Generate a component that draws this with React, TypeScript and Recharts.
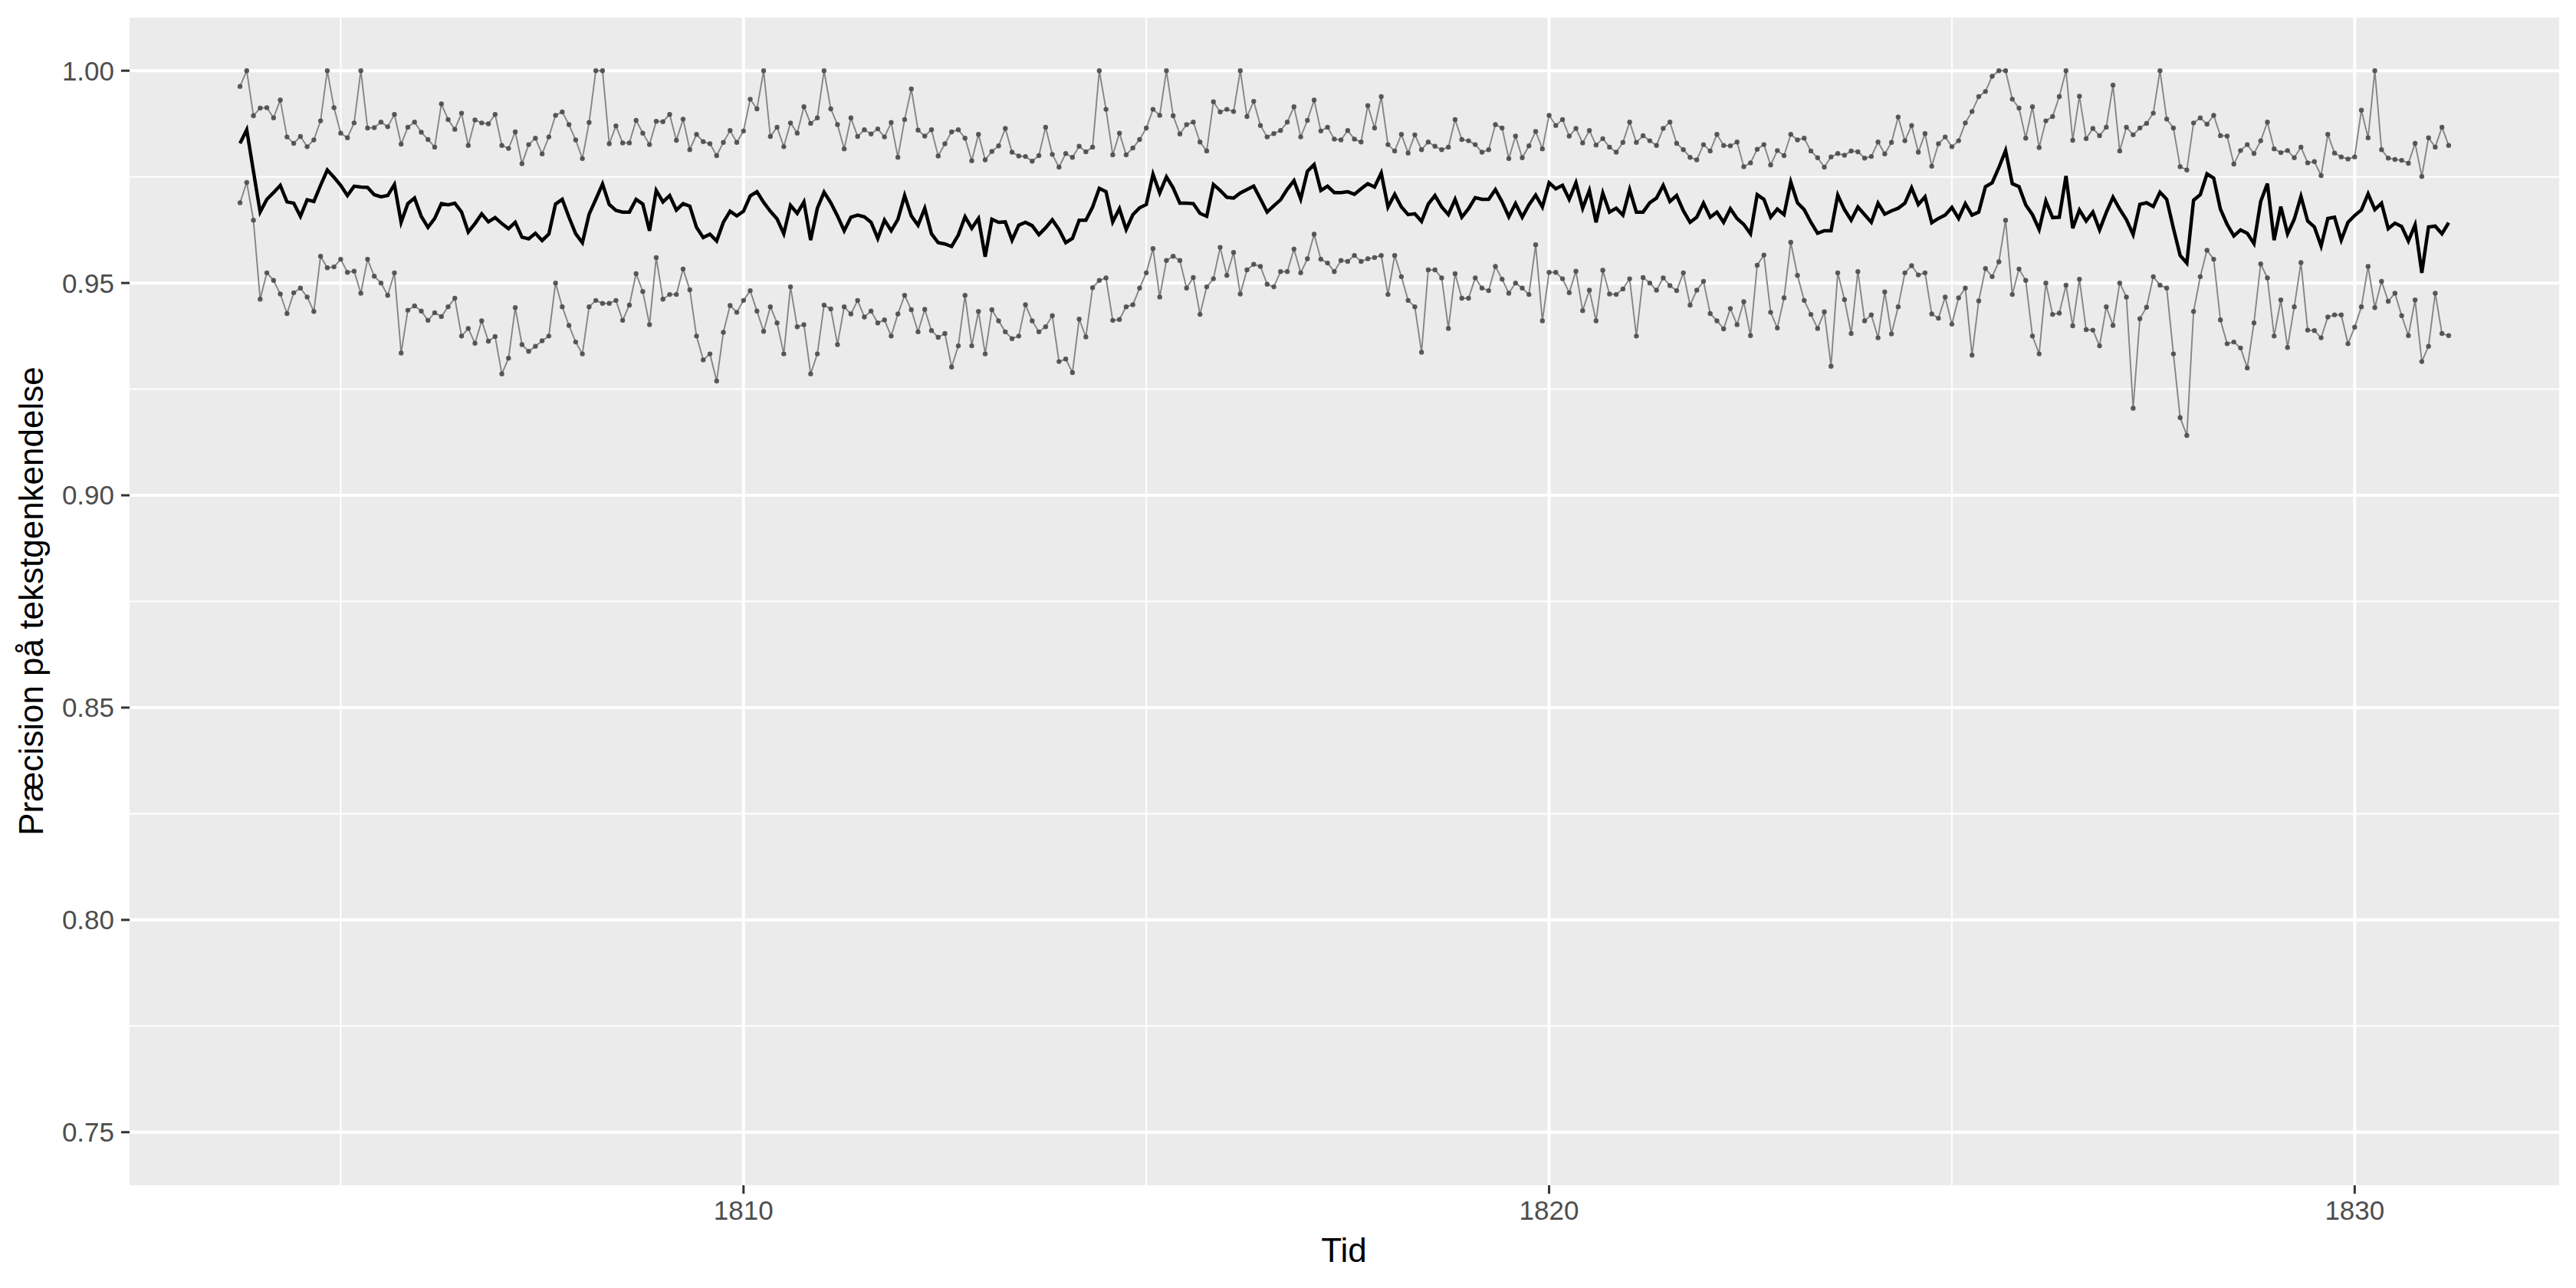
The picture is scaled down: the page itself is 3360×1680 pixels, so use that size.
import React from 'react';
import { LineChart, Line, XAxis, YAxis, CartesianGrid, ReferenceLine } from 'recharts';

// Monthly series, starting October 1803
const startYear = 1803.75;

const upper = [
0.9963,1.0000,0.9894,0.9912,0.9913,0.9889,0.9931,0.9844,0.9829,0.9845,
0.9821,0.9837,0.9882,1.0000,0.9913,0.9853,0.9842,0.9877,1.0000,0.9865,
0.9866,0.9879,0.9868,0.9897,0.9827,0.9867,0.9879,0.9855,0.9838,0.9820,
0.9922,0.9885,0.9862,0.9900,0.9824,0.9884,0.9877,0.9875,0.9897,0.9824,
0.9817,0.9856,0.9781,0.9826,0.9841,0.9804,0.9844,0.9895,0.9903,0.9873,
0.9837,0.9793,0.9878,1.0000,1.0000,0.9828,0.9870,0.9830,0.9830,0.9883,
0.9853,0.9826,0.9881,0.9880,0.9897,0.9836,0.9886,0.9814,0.9850,0.9833,
0.9828,0.9800,0.9831,0.9859,0.9831,0.9858,0.9933,0.9910,1.0000,0.9845,
0.9867,0.9821,0.9877,0.9853,0.9915,0.9876,0.9889,1.0000,0.9910,0.9873,
0.9816,0.9889,0.9845,0.9861,0.9851,0.9863,0.9844,0.9878,0.9796,0.9885,
0.9957,0.9860,0.9846,0.9861,0.9799,0.9828,0.9856,0.9861,0.9841,0.9788,
0.9850,0.9790,0.9810,0.9823,0.9864,0.9808,0.9799,0.9798,0.9787,0.9800,
0.9867,0.9803,0.9773,0.9805,0.9796,0.9822,0.9809,0.9820,1.0000,0.9909,
0.9802,0.9853,0.9802,0.9818,0.9838,0.9865,0.9909,0.9895,1.0000,0.9894,
0.9851,0.9873,0.9879,0.9832,0.9811,0.9927,0.9903,0.9909,0.9904,1.0000,
0.9892,0.9928,0.9871,0.9844,0.9852,0.9859,0.9879,0.9915,0.9844,0.9883,
0.9931,0.9858,0.9867,0.9839,0.9837,0.9859,0.9839,0.9832,0.9918,0.9865,
0.9939,0.9826,0.9811,0.9850,0.9806,0.9849,0.9814,0.9832,0.9822,0.9814,
0.9820,0.9885,0.9838,0.9835,0.9826,0.9808,0.9814,0.9873,0.9865,0.9793,
0.9846,0.9795,0.9823,0.9857,0.9816,0.9895,0.9871,0.9885,0.9846,0.9864,
0.9830,0.9859,0.9825,0.9840,0.9820,0.9808,0.9831,0.9879,0.9831,0.9847,
0.9835,0.9824,0.9864,0.9879,0.9829,0.9814,0.9796,0.9790,0.9826,0.9811,
0.9850,0.9824,0.9823,0.9832,0.9774,0.9783,0.9815,0.9826,0.9778,0.9812,
0.9800,0.9850,0.9837,0.9841,0.9811,0.9795,0.9773,0.9797,0.9805,0.9801,
0.9811,0.9809,0.9794,0.9798,0.9832,0.9804,0.9831,0.9891,0.9835,0.9871,
0.9808,0.9852,0.9775,0.9828,0.9844,0.9821,0.9835,0.9877,0.9904,0.9939,
0.9951,0.9987,1.0000,1.0000,0.9933,0.9912,0.9841,0.9915,0.9819,0.9882,
0.9892,0.9939,1.0000,0.9836,0.9940,0.9840,0.9864,0.9847,0.9867,0.9966,
0.9811,0.9867,0.9849,0.9865,0.9876,0.9900,1.0000,0.9886,0.9865,0.9774,
0.9766,0.9877,0.9889,0.9874,0.9895,0.9847,0.9846,0.9780,0.9812,0.9826,
0.9805,0.9835,0.9879,0.9816,0.9807,0.9812,0.9795,0.9820,0.9783,0.9786,
0.9753,0.9850,0.9806,0.9797,0.9792,0.9797,0.9907,0.9842,1.0000,0.9814,
0.9794,0.9791,0.9789,0.9782,0.9829,0.9751,0.9842,0.9820,0.9867,0.9824
];

const middle = [
0.9829,0.9861,0.9763,0.9667,0.9697,0.9713,0.9730,0.9691,0.9688,0.9657,
0.9696,0.9692,0.9730,0.9766,0.9749,0.9730,0.9706,0.9728,0.9726,0.9725,
0.9708,0.9703,0.9706,0.9732,0.9643,0.9687,0.9700,0.9657,0.9631,0.9652,
0.9687,0.9684,0.9688,0.9667,0.9620,0.9640,0.9663,0.9644,0.9654,0.9640,
0.9628,0.9643,0.9608,0.9604,0.9617,0.9600,0.9615,0.9686,0.9697,0.9655,
0.9616,0.9595,0.9662,0.9697,0.9733,0.9685,0.9671,0.9667,0.9667,0.9697,
0.9686,0.9623,0.9718,0.9691,0.9706,0.9672,0.9687,0.9681,0.9631,0.9607,
0.9615,0.9599,0.9643,0.9669,0.9658,0.9669,0.9705,0.9715,0.9690,0.9669,
0.9651,0.9616,0.9683,0.9664,0.9691,0.9601,0.9676,0.9714,0.9689,0.9658,
0.9623,0.9655,0.9660,0.9656,0.9643,0.9605,0.9648,0.9623,0.9650,0.9706,
0.9658,0.9636,0.9676,0.9616,0.9595,0.9592,0.9586,0.9613,0.9656,0.9629,
0.9652,0.9562,0.9650,0.9643,0.9644,0.9601,0.9636,0.9643,0.9635,0.9614,
0.9630,0.9649,0.9626,0.9595,0.9605,0.9648,0.9648,0.9679,0.9723,0.9715,
0.9644,0.9675,0.9626,0.9661,0.9677,0.9685,0.9756,0.9712,0.9750,0.9724,
0.9688,0.9688,0.9687,0.9664,0.9657,0.9732,0.9718,0.9702,0.9700,0.9712,
0.9720,0.9728,0.9698,0.9667,0.9682,0.9696,0.9721,0.9741,0.9698,0.9763,
0.9779,0.9718,0.9728,0.9713,0.9713,0.9715,0.9709,0.9722,0.9734,0.9726,
0.9759,0.9679,0.9709,0.9679,0.9661,0.9663,0.9645,0.9686,0.9706,0.9679,
0.9661,0.9697,0.9655,0.9675,0.9701,0.9697,0.9697,0.9720,0.9691,0.9656,
0.9687,0.9655,0.9684,0.9707,0.9679,0.9736,0.9722,0.9730,0.9697,0.9736,
0.9676,0.9718,0.9643,0.9712,0.9667,0.9676,0.9660,0.9720,0.9667,0.9667,
0.9689,0.9700,0.9730,0.9692,0.9706,0.9670,0.9643,0.9655,0.9688,0.9655,
0.9667,0.9643,0.9675,0.9652,0.9638,0.9616,0.9708,0.9697,0.9655,0.9674,
0.9661,0.9738,0.9689,0.9673,0.9643,0.9617,0.9623,0.9623,0.9707,0.9673,
0.9648,0.9679,0.9661,0.9643,0.9688,0.9662,0.9670,0.9676,0.9688,0.9724,
0.9685,0.9703,0.9642,0.9652,0.9660,0.9678,0.9652,0.9687,0.9660,0.9667,
0.9727,0.9736,0.9772,0.9812,0.9734,0.9727,0.9684,0.9661,0.9626,0.9693,
0.9654,0.9655,0.9752,0.9629,0.9672,0.9646,0.9667,0.9625,0.9666,0.9702,
0.9674,0.9649,0.9614,0.9685,0.9689,0.9680,0.9714,0.9697,0.9629,0.9565,
0.9547,0.9695,0.9708,0.9757,0.9747,0.9674,0.9638,0.9611,0.9625,0.9617,
0.9593,0.9692,0.9734,0.9601,0.9680,0.9616,0.9650,0.9704,0.9646,0.9632,
0.9587,0.9652,0.9655,0.9601,0.9643,0.9659,0.9672,0.9710,0.9673,0.9688,
0.9628,0.9641,0.9633,0.9599,0.9637,0.9524,0.9632,0.9634,0.9616,0.9642
];

const lower = [
0.9689,0.9737,0.9648,0.9462,0.9524,0.9506,0.9474,0.9428,0.9477,0.9488,
0.9467,0.9433,0.9563,0.9536,0.9538,0.9556,0.9525,0.9528,0.9476,0.9556,
0.9516,0.9500,0.9471,0.9524,0.9335,0.9436,0.9446,0.9434,0.9412,0.9430,
0.9421,0.9444,0.9464,0.9375,0.9393,0.9358,0.9411,0.9363,0.9374,0.9286,
0.9323,0.9442,0.9355,0.9339,0.9351,0.9364,0.9375,0.9500,0.9444,0.9400,
0.9361,0.9333,0.9444,0.9459,0.9452,0.9452,0.9459,0.9412,0.9448,0.9522,
0.9480,0.9402,0.9560,0.9462,0.9473,0.9473,0.9533,0.9484,0.9375,0.9319,
0.9333,0.9269,0.9384,0.9447,0.9431,0.9459,0.9482,0.9434,0.9386,0.9444,
0.9406,0.9333,0.9491,0.9397,0.9402,0.9286,0.9333,0.9448,0.9439,0.9355,
0.9444,0.9427,0.9459,0.9420,0.9434,0.9406,0.9413,0.9375,0.9427,0.9471,
0.9437,0.9385,0.9438,0.9388,0.9372,0.9381,0.9302,0.9352,0.9471,0.9352,
0.9433,0.9333,0.9437,0.9411,0.9385,0.9369,0.9375,0.9449,0.9411,0.9385,
0.9397,0.9423,0.9315,0.9321,0.9289,0.9415,0.9373,0.9489,0.9506,0.9512,
0.9412,0.9414,0.9444,0.9449,0.9488,0.9524,0.9581,0.9467,0.9553,0.9563,
0.9553,0.9488,0.9513,0.9426,0.9491,0.9510,0.9584,0.9518,0.9572,0.9474,
0.9531,0.9544,0.9539,0.9497,0.9491,0.9527,0.9527,0.9580,0.9524,0.9557,
0.9615,0.9556,0.9547,0.9527,0.9553,0.9551,0.9565,0.9551,0.9557,0.9560,
0.9565,0.9473,0.9565,0.9515,0.9459,0.9444,0.9337,0.9531,0.9531,0.9512,
0.9393,0.9522,0.9464,0.9464,0.9512,0.9488,0.9482,0.9539,0.9509,0.9476,
0.9500,0.9488,0.9473,0.9590,0.9411,0.9525,0.9525,0.9510,0.9477,0.9528,
0.9435,0.9483,0.9411,0.9530,0.9474,0.9473,0.9486,0.9510,0.9375,0.9513,
0.9500,0.9483,0.9512,0.9494,0.9482,0.9524,0.9448,0.9483,0.9504,0.9428,
0.9411,0.9392,0.9440,0.9402,0.9456,0.9376,0.9542,0.9566,0.9431,0.9394,
0.9465,0.9596,0.9518,0.9459,0.9426,0.9393,0.9432,0.9304,0.9524,0.9461,
0.9381,0.9527,0.9411,0.9425,0.9371,0.9479,0.9380,0.9444,0.9524,0.9541,
0.9519,0.9524,0.9427,0.9417,0.9467,0.9403,0.9465,0.9488,0.9330,0.9458,
0.9534,0.9515,0.9550,0.9648,0.9473,0.9533,0.9506,0.9375,0.9333,0.9500,
0.9426,0.9429,0.9495,0.9399,0.9509,0.9390,0.9389,0.9352,0.9444,0.9400,
0.9500,0.9467,0.9205,0.9416,0.9443,0.9515,0.9495,0.9488,0.9333,0.9183,
0.9141,0.9433,0.9515,0.9577,0.9556,0.9413,0.9357,0.9361,0.9347,0.9300,
0.9406,0.9545,0.9512,0.9375,0.9460,0.9348,0.9444,0.9548,0.9389,0.9388,
0.9371,0.9420,0.9425,0.9425,0.9357,0.9396,0.9444,0.9539,0.9442,0.9504,
0.9457,0.9476,0.9423,0.9376,0.9460,0.9315,0.9351,0.9476,0.9381,0.9376
];

const xTicks = [1810, 1820, 1830];
const xMinor = [1805, 1815, 1825];
const yTicks = [0.75, 0.8, 0.85, 0.9, 0.95, 1.0];
const yMinor = [0.775, 0.825, 0.875, 0.925, 0.975];
const xTitle = 'Tid';
const yTitle = 'Præcision på tekstgenkendelse';

const data = upper.map((u, i) => ({
  t: startYear + i / 12,
  upper: u,
  middle: middle[i],
  lower: lower[i],
}));

const FONT = '"Liberation Sans", Arial, Helvetica, sans-serif';

export default function App() {
  return (
    <div style={{ position: 'absolute', left: 0, top: 0, width: 3360, height: 1680, background: '#fff' }}>
      <LineChart
        width={3360}
        height={1680}
        data={data}
        margin={{ top: 23, right: 22, left: 0, bottom: 0 }}
      >
        <CartesianGrid fill="#EBEBEB" stroke="none" horizontal={false} vertical={false} />
        {yMinor.map((v) => (
          <ReferenceLine key={'ym' + v} y={v} stroke="#FFFFFF" strokeWidth={2} ifOverflow="hidden" />
        ))}
        {xMinor.map((v) => (
          <ReferenceLine key={'xm' + v} x={v} stroke="#FFFFFF" strokeWidth={2} ifOverflow="hidden" />
        ))}
        {yTicks.map((v) => (
          <ReferenceLine key={'yM' + v} y={v} stroke="#FFFFFF" strokeWidth={4} ifOverflow="hidden" />
        ))}
        {xTicks.map((v) => (
          <ReferenceLine key={'xM' + v} x={v} stroke="#FFFFFF" strokeWidth={4} ifOverflow="hidden" />
        ))}
        <XAxis
          dataKey="t"
          type="number"
          domain={[1802.379, 1832.538]}
          allowDataOverflow
          ticks={xTicks}
          height={134}
          axisLine={false}
          tickSize={11}
          tickMargin={9}
          tickLine={{ stroke: '#333333', strokeWidth: 3 }}
          tick={{ fill: '#4D4D4D', fontSize: 35, fontFamily: FONT }}
        />
        <YAxis
          type="number"
          domain={[0.7375, 1.0125]}
          allowDataOverflow
          ticks={yTicks}
          width={169}
          axisLine={false}
          tickSize={11}
          tickMargin={9}
          tickLine={{ stroke: '#333333', strokeWidth: 3 }}
          tick={{ fill: '#4D4D4D', fontSize: 35, fontFamily: FONT }}
          tickFormatter={(v: number) => v.toFixed(2)}
        />
        <Line
          dataKey="upper"
          type="linear"
          stroke="#858585"
          strokeWidth={1.9}
          dot={{ r: 3.2, fill: '#4A4A4A', stroke: 'none', fillOpacity: 0.9 }}
          isAnimationActive={false}
        />
        <Line
          dataKey="lower"
          type="linear"
          stroke="#858585"
          strokeWidth={1.9}
          dot={{ r: 3.2, fill: '#4A4A4A', stroke: 'none', fillOpacity: 0.9 }}
          isAnimationActive={false}
        />
        <Line
          dataKey="middle"
          type="linear"
          stroke="#000000"
          strokeWidth={4.5}
          dot={false}
          isAnimationActive={false}
        />
      </LineChart>
      <svg
        width={3360}
        height={1680}
        style={{ position: 'absolute', left: 0, top: 0, pointerEvents: 'none' }}
      >
        <text x={1753} y={1646} textAnchor="middle" fontSize={44} fontFamily={FONT} fill="#000000">
          {xTitle}
        </text>
        <text
          x={0}
          y={0}
          transform="translate(56,784) rotate(-90)"
          textAnchor="middle"
          fontSize={44}
          fontFamily={FONT}
          fill="#000000"
        >
          {yTitle}
        </text>
      </svg>
    </div>
  );
}
